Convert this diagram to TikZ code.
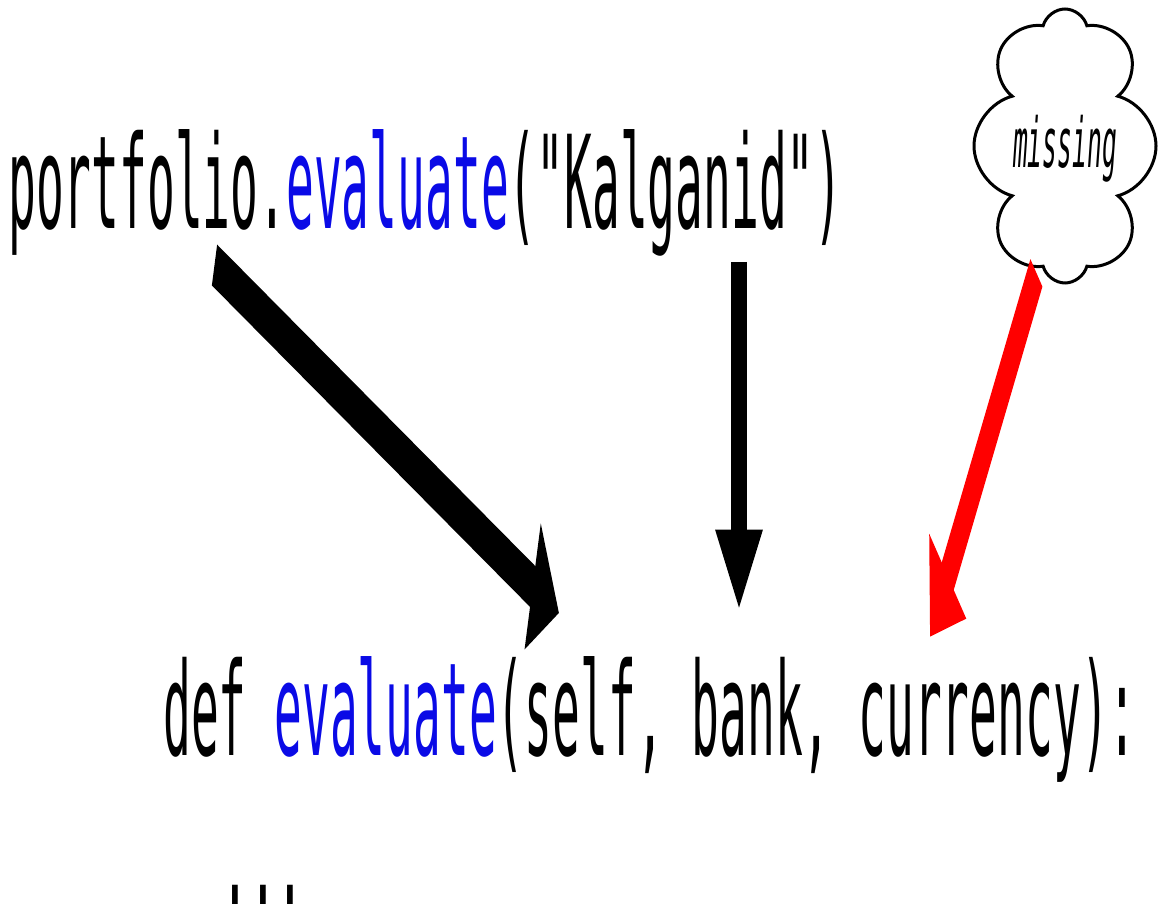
\documentclass[tikz,border=0pt]{standalone}
\usepackage{fontspec}
\setmonofont{DejaVu Sans Mono}
\usepackage{xcolor}
\usetikzlibrary{arrows.meta,shapes.symbols}
\definecolor{codeblue}{RGB}{10,10,230}
\definecolor{missred}{RGB}{255,0,0}

\begin{document}
\begin{tikzpicture}[x=1pt, y=1pt,
  code/.style={anchor=base west, inner sep=0pt, font=\ttfamily\fontsize{46.2}{50}\selectfont},
  note/.style={anchor=base, inner sep=0pt, font=\ttfamily\itshape\fontsize{24.6}{28}\selectfont},
  fat/.style={line width=15.5pt, -{Triangle[length=28pt,width=46pt]}}]
\useasboundingbox (0,0) rectangle (1159,911);

\node[cloud, draw, line width=3pt, cloud puffs=8, cloud puff arc=150, cloud ignores aspect,
      minimum width=182pt, minimum height=274pt] (bubble) at (1065,765) {};

% everything below is drawn flat and stretched upward
\begin{scope}[transform canvas={yscale=2.8}]
\node[code] (call) at (8,243.9) {portfolio.\textcolor{codeblue}{evaluate}("Kalganid")};
\node[code] (def) at (163,55.7) {def \textcolor{codeblue}{evaluate}(self, bank, currency):};
\node[code] (dots) at (221,2.4) {...};
\node[note] (missing) at (1065,265.4) {missing};

\coordinate (objtail) at (214.5,230.7);
\coordinate (selfhead) at (559,106.4);
\coordinate (argtail) at (739,231.8);
\coordinate (bankhead) at (739,108.2);
\coordinate (misstail) at (1036.4,227.9);
\coordinate (curhead) at (930,97.9);

\draw[fat] (objtail) -- (selfhead);
\draw[fat] (argtail) -- (bankhead);
\draw[fat, missred] (misstail) -- (curhead);
\end{scope}
\end{tikzpicture}
\end{document}
